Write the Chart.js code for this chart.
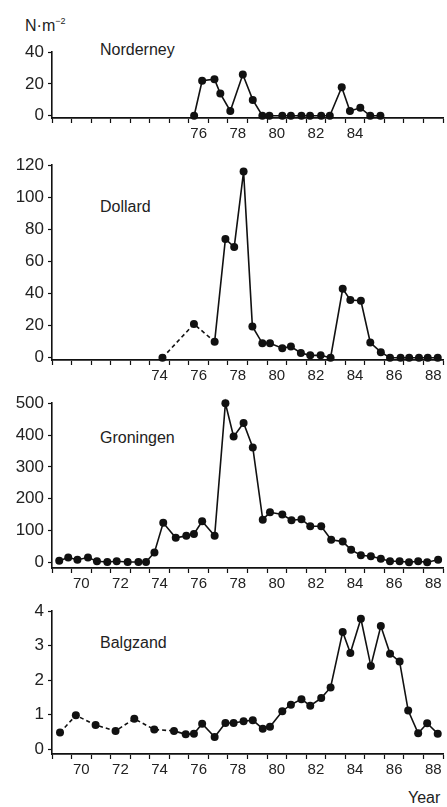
<!DOCTYPE html>
<html>
<head>
<meta charset="utf-8">
<script src="https://cdn.jsdelivr.net/npm/chart.js@4.4.1/dist/chart.umd.min.js"></script>
<style>
  html, body { margin: 0; padding: 0; background: #fff; }
  body { width: 447px; height: 807px; position: relative; overflow: hidden; font-family: "Liberation Sans", Arial, Helvetica, sans-serif; color: #222; }
  canvas { position: absolute; left: 0; }
  .lbl { position: absolute; font-size: 16px; line-height: 16px; white-space: nowrap; color: #222; }
</style>
</head>
<body>
<div class="lbl" style="left:25px; top:13px;">N·m<sup style="font-size:9px; vertical-align: 7px;">−2</sup></div>
<div class="lbl" style="left:100px; top:42px;">Norderney</div>
<div class="lbl" style="left:100px; top:199px;">Dollard</div>
<div class="lbl" style="left:100px; top:430px;">Groningen</div>
<div class="lbl" style="left:100px; top:635px;">Balgzand</div>
<div class="lbl" style="left:408px; top:790px;">Year</div>

<canvas id="cN" width="447" height="110" style="top:38px"></canvas>
<canvas id="cD" width="447" height="239" style="top:151px"></canvas>
<canvas id="cG" width="447" height="209" style="top:389px"></canvas>
<canvas id="cB" width="447" height="187" style="top:596.5px"></canvas>

<script>
// ---------- data (x = year, 19xx; labels sit mid-year) ----------
const norderneyYears  = [76.27,76.68,77.31,77.61,78.12,78.76,79.27,79.76,80.12,80.78,81.22,81.76,82.20,82.77,83.21,83.82,84.24,84.77,85.28,85.80];
const norderneyValues = [0,22,23,14,3,26,10,0,0,0,0,0,0,0,0,18,3,5,0,0];

const dollardYears  = [74.65,76.26,77.32,77.87,78.32,78.80,79.25,79.76,80.15,80.78,81.22,81.73,82.21,82.74,83.25,83.87,84.26,84.80,85.28,85.82,86.29,86.83,87.27,87.77,88.22,88.73];
const dollardValues = [0,21,10,74,69,116,19.5,9,9,6,7,3,1.5,1.5,0,43,36,35.5,9.5,3.5,0,0,0,0,0,0];

const groningenYears  = [69.37,69.83,70.30,70.84,71.30,71.83,72.31,72.87,73.42,73.81,74.24,74.69,75.33,75.87,76.26,76.68,77.32,77.87,78.29,78.80,79.27,79.78,80.15,80.78,81.25,81.76,82.21,82.77,83.28,83.87,84.30,84.80,85.31,85.82,86.29,86.78,87.26,87.73,88.19,88.75];
const groningenValues = [5,15,8,15,3,1,3,1,1,1,31,124,77,83,89,129,83,500,395,438,361,134,157,150,132,135,113,113,71,65,39,22,19,11,3,3,0,3,0,8];

const balgzandYears  = [69.41,70.22,71.23,72.25,73.21,74.23,75.24,75.84,76.26,76.68,77.32,77.87,78.29,78.80,79.27,79.78,80.15,80.78,81.22,81.76,82.21,82.77,83.25,83.87,84.26,84.80,85.31,85.82,86.29,86.78,87.22,87.73,88.19,88.73];
const balgzandValues = [0.48,0.98,0.70,0.53,0.88,0.57,0.53,0.43,0.45,0.74,0.35,0.76,0.76,0.81,0.84,0.59,0.65,1.10,1.29,1.45,1.26,1.48,1.79,3.40,2.79,3.78,2.41,3.57,2.77,2.54,1.12,0.46,0.75,0.45];

// tick labels
const norderneyXLabels = ['76','78','80','82','84'];
const dollardXLabels   = ['74','76','78','80','82','84','86','88'];
const fullXLabels      = ['70','72','74','76','78','80','82','84','86','88'];
const norderneyYTicks = [0,20,40];
const dollardYTicks   = [0,20,40,60,80,100,120];
const groningenYTicks = [0,100,200,300,400,500];
const balgzandYTicks  = [0,1,2,3,4];

// number of leading dashed segments
const dollardDashed = 2;
const balgzandDashed = 6;

const INK = '#111';
const FONT = '"Liberation Sans", Arial, Helvetica, sans-serif';

function makeChart(id, years, values, yTicks, yMin, yMax, xLabels, dashedCount) {
  const pts = years.map((x, i) => ({ x: x, y: values[i] }));
  const xTickVals = [];
  for (let v = 69; v <= 89; v += 0.5) xTickVals.push(v);
  return new Chart(document.getElementById(id), {
    type: 'line',
    data: {
      datasets: [{
        data: pts,
        borderColor: INK,
        backgroundColor: INK,
        borderWidth: 1.6,
        pointRadius: 4,
        pointBackgroundColor: INK,
        pointBorderColor: INK,
        pointBorderWidth: 0,
        tension: 0,
        clip: false,
        segment: {
          borderDash: ctx => (ctx.p0DataIndex < dashedCount ? [4, 3] : [])
        }
      }]
    },
    options: {
      responsive: false,
      animation: false,
      events: [],
      layout: { padding: { top: 12, left: 0, right: 0, bottom: 0 } },
      plugins: { legend: { display: false }, tooltip: { enabled: false } },
      scales: {
        x: {
          type: 'linear',
          min: 69, max: 89,
          afterFit: s => { s.height = 30; },
          afterBuildTicks: s => { s.ticks = xTickVals.map(v => ({ value: v })); },
          border: { color: INK, width: 1.8 },
          grid: {
            drawOnChartArea: false,
            drawTicks: true,
            tickLength: 5,
            tickWidth: 1.2,
            tickColor: ctx => (ctx.tick && Number.isInteger(ctx.tick.value) ? INK : 'rgba(0,0,0,0)')
          },
          ticks: {
            autoSkip: false,
            maxRotation: 0,
            padding: 2,
            color: '#222',
            font: { family: FONT, size: 15 },
            callback: v => {
              const yr = v - 0.5;
              const s = String(yr);
              return xLabels.includes(s) ? s : '';
            }
          }
        },
        y: {
          min: yMin, max: yMax,
          afterFit: s => { s.width = 52; },
          afterBuildTicks: s => { s.ticks = yTicks.map(v => ({ value: v })); },
          border: { color: INK, width: 1.6 },
          grid: { drawOnChartArea: false, drawTicks: true, tickLength: 4, tickWidth: 1.2, tickColor: INK },
          ticks: {
            padding: 4,
            color: '#222',
            font: { family: FONT, size: 17 }
          }
        }
      }
    }
  });
}

makeChart('cN', norderneyYears, norderneyValues, norderneyYTicks, -1.4, 40, norderneyXLabels, 0);
makeChart('cD', dollardYears, dollardValues, dollardYTicks, -1.4, 120, dollardXLabels, dollardDashed);
makeChart('cG', groningenYears, groningenValues, groningenYTicks, -18, 500, fullXLabels, 0);
makeChart('cB', balgzandYears, balgzandValues, balgzandYTicks, -0.14, 4, fullXLabels, balgzandDashed);
</script>
</body>
</html>
